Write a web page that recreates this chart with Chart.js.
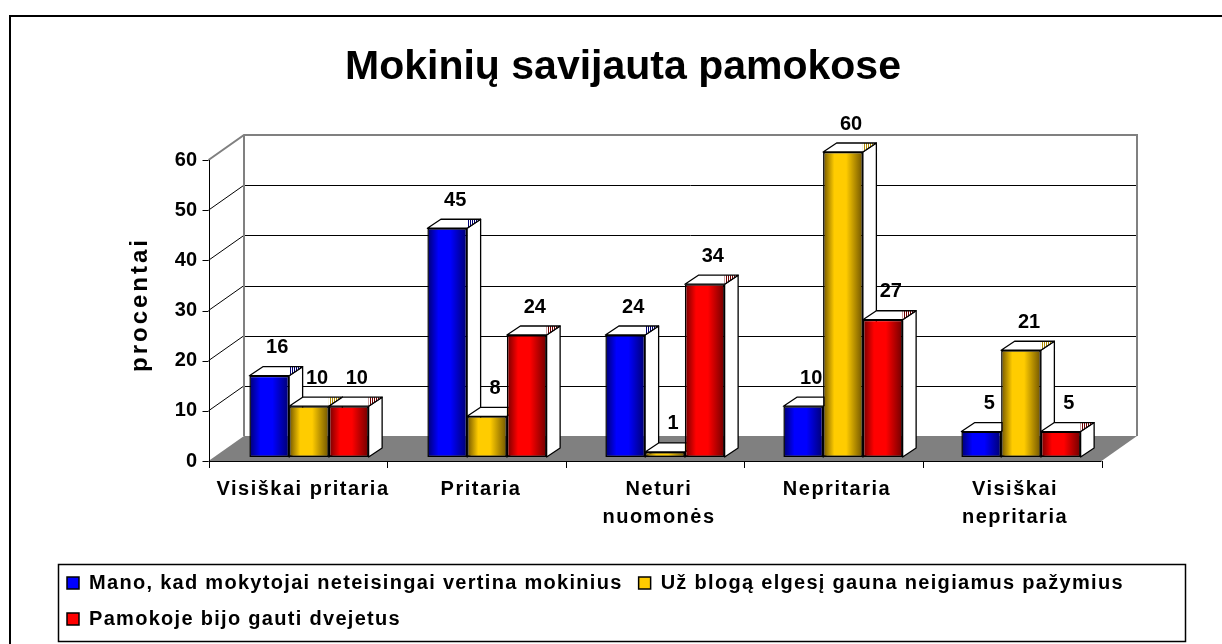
<!DOCTYPE html>
<html>
<head>
<meta charset="utf-8">
<script src="https://cdn.jsdelivr.net/npm/chart.js@4.4.0/dist/chart.umd.min.js"></script>
<style>
html,body{margin:0;padding:0;background:#fff;}
canvas{display:block;}
</style>
</head>
<body>
<canvas id="c" width="1222" height="644"></canvas>
<script>
// ---------- data ----------
const chartTitle = 'Mokinių savijauta pamokose';
const yAxisTitle = 'procentai';
const categories = ['Visiškai pritaria', 'Pritaria', ['Neturi', 'nuomonės'], 'Nepritaria', ['Visiškai', 'nepritaria']];
const seriesNames = [
  'Mano, kad mokytojai neteisingai vertina mokinius',
  'Už blogą elgesį gauna neigiamus pažymius',
  'Pamokoje bijo gauti dvejetus'
];
const teachersUnfair = [16, 45, 24, 10, 5];
const badBehaviourMarks = [10, 8, 1, 60, 21];
const afraidOfTwos = [10, 24, 34, 27, 5];
const yTickValues = [0, 10, 20, 30, 40, 50, 60];

// ---------- style ----------
const FONT = "'Liberation Sans', Arial, sans-serif";
const brightColors = ['#0000FF', '#FFCC00', '#FF0000'];
const darkColors = ['#000070', '#705400', '#700000'];
const seriesValues = [teachersUnfair, badBehaviourMarks, afraidOfTwos];

Chart.defaults.font.family = FONT;
Chart.defaults.color = '#000';

const GEO = { frontLeft: 11.5, frontRight: 8.5, backX: 35.5, backY: 25, barDX: 13.5, barDY: 9 };

function stripePattern(ctx, color) {
  const c = document.createElement('canvas');
  c.width = 2; c.height = 1;
  const g = c.getContext('2d');
  g.fillStyle = '#fff'; g.fillRect(0, 0, 2, 1);
  g.fillStyle = color; g.fillRect(0, 0, 1, 1);
  return ctx.createPattern(c, 'repeat');
}

function withSpacing(chart, obj, method, spacing) {
  if (!obj || obj['__ls_' + method]) return;
  const orig = obj[method];
  obj[method] = function () {
    const c = chart.ctx;
    const prev = c.letterSpacing;
    c.letterSpacing = spacing;
    try { return orig.apply(this, arguments); } finally { c.letterSpacing = prev; }
  };
  obj['__ls_' + method] = true;
}

const excel3d = {
  id: 'excel3d',
  beforeLayout(chart) {
    chart.ctx.letterSpacing = '1.3px';
  },
  beforeDraw(chart) {
    const ctx = chart.ctx;
    ctx.letterSpacing = '0px';
    withSpacing(chart, chart.titleBlock, 'draw', '0px');
    withSpacing(chart, chart.legend, 'draw', '1.3px');
    withSpacing(chart, chart.scales.x, 'drawLabels', '1.5px');
    withSpacing(chart, chart.scales.yFront, 'drawLabels', '0px');
    withSpacing(chart, chart.scales.yFront, 'drawTitle', '3px');
  },
  beforeDatasetsDraw(chart) {
    const ctx = chart.ctx;
    const xs = chart.scales.x, yf = chart.scales.yFront;
    const n = categories.length;
    const x0 = xs.left - GEO.frontLeft, x1 = xs.right - GEO.frontRight;
    const bx = GEO.backX, by = GEO.backY;
    const vMax = yTickValues[yTickValues.length - 1];
    const yTop = yf.getPixelForValue(vMax), yBot = yf.getPixelForValue(0);
    const r = (v) => Math.round(v) + 0.5;

    ctx.save();
    // floor
    ctx.fillStyle = '#808080';
    ctx.beginPath();
    ctx.moveTo(x0, yBot); ctx.lineTo(x1, yBot);
    ctx.lineTo(x1 + bx, yBot - by); ctx.lineTo(x0 + bx, yBot - by);
    ctx.closePath(); ctx.fill();

    // back wall gridlines + left wall diagonals
    ctx.strokeStyle = '#000'; ctx.lineWidth = 1;
    yTickValues.forEach(v => {
      if (v === 0 || v === vMax) return;
      const y = yf.getPixelForValue(v);
      ctx.beginPath();
      ctx.moveTo(x0 + bx, r(y - by)); ctx.lineTo(x1 + bx, r(y - by));
      ctx.stroke();
      ctx.beginPath();
      ctx.moveTo(x0, y); ctx.lineTo(x0 + bx, y - by);
      ctx.stroke();
    });
    // wall outline (grey)
    ctx.strokeStyle = '#808080'; ctx.lineWidth = 2;
    ctx.beginPath();
    ctx.moveTo(x0, yTop); ctx.lineTo(x0 + bx, yTop - by);
    ctx.lineTo(x1 + bx, yTop - by); ctx.lineTo(x1 + bx, yBot - by);
    ctx.stroke();
    ctx.beginPath();
    ctx.moveTo(x0 + bx, yTop - by); ctx.lineTo(x0 + bx, yBot - by);
    ctx.stroke();

    // front value axis
    ctx.strokeStyle = '#000'; ctx.lineWidth = 1;
    ctx.beginPath();
    ctx.moveTo(r(x0), yTop); ctx.lineTo(r(x0), yBot);
    ctx.stroke();
    yTickValues.forEach(v => {
      const y = r(yf.getPixelForValue(v));
      ctx.beginPath(); ctx.moveTo(x0 - 6, y); ctx.lineTo(x0, y); ctx.stroke();
    });
    // front category axis
    ctx.beginPath();
    ctx.moveTo(x0, r(yBot)); ctx.lineTo(x1, r(yBot));
    ctx.stroke();
    for (let i = 0; i <= n; i++) {
      const x = r(x0 + i * (x1 - x0) / n);
      ctx.beginPath(); ctx.moveTo(x, yBot); ctx.lineTo(x, yBot + 7); ctx.stroke();
    }

    // bar gradients + side / top faces
    const dx = GEO.barDX, dy = GEO.barDY;
    chart.data.datasets.forEach((ds, di) => {
      const meta = chart.getDatasetMeta(di);
      meta.data.forEach(el => {
        const L = el.x - el.width / 2, R = el.x + el.width / 2;
        const g = ctx.createLinearGradient(L, 0, R, 0);
        g.addColorStop(0, darkColors[di]);
        g.addColorStop(0.28, brightColors[di]);
        g.addColorStop(0.58, brightColors[di]);
        g.addColorStop(1, darkColors[di]);
        el.options = Object.assign({}, el.options, { backgroundColor: g });
      });
    });
    ctx.lineWidth = 1.3; ctx.strokeStyle = '#000'; ctx.lineJoin = 'round';
    for (let i = 0; i < n; i++) {
      chart.data.datasets.forEach((ds, di) => {
        const el = chart.getDatasetMeta(di).data[i];
        const L = el.x - el.width / 2, R = el.x + el.width / 2, T = el.y, B = el.base;
        // side face
        ctx.fillStyle = '#fff';
        ctx.beginPath();
        ctx.moveTo(R, T); ctx.lineTo(R + dx, T - dy); ctx.lineTo(R + dx, B - dy); ctx.lineTo(R, B);
        ctx.closePath(); ctx.fill(); ctx.stroke();
        // top face
        ctx.beginPath();
        ctx.moveTo(L, T); ctx.lineTo(L + dx, T - dy); ctx.lineTo(R + dx, T - dy); ctx.lineTo(R, T);
        ctx.closePath(); ctx.fill();
        ctx.fillStyle = stripePattern(ctx, brightColors[di] === '#FFCC00' ? '#B08C00' : darkColors[di]);
        ctx.beginPath();
        ctx.moveTo(R, T); ctx.lineTo(R, T - dy); ctx.lineTo(R + dx, T - dy);
        ctx.closePath(); ctx.fill();
        ctx.beginPath();
        ctx.moveTo(L, T); ctx.lineTo(L + dx, T - dy); ctx.lineTo(R + dx, T - dy); ctx.lineTo(R, T);
        ctx.closePath(); ctx.stroke();
      });
    }
    ctx.restore();
  },
  afterDatasetsDraw(chart) {
    const ctx = chart.ctx;
    ctx.save();
    ctx.letterSpacing = '0px';
    ctx.font = 'bold 20px ' + FONT;
    ctx.fillStyle = '#000';
    ctx.textAlign = 'center';
    ctx.textBaseline = 'middle';
    chart.data.datasets.forEach((ds, di) => {
      chart.getDatasetMeta(di).data.forEach((el, i) => {
        ctx.fillText(String(ds.data[i]), el.x + 8, el.y - 28);
      });
    });
    ctx.restore();
  },
  afterDraw(chart) {
    const ctx = chart.ctx;
    const lg = chart.legend;
    ctx.save();
    ctx.strokeStyle = '#000';
    ctx.lineWidth = 1.5;
    ctx.strokeRect(Math.round(lg.left + 7) + 0.5, Math.round(lg.top + 7) + 0.5,
                   Math.round(lg.width - 17), Math.round(lg.height - 5));
    // outer chart frame
    ctx.lineWidth = 2;
    ctx.beginPath();
    ctx.moveTo(10, chart.height + 2); ctx.lineTo(10, 16); ctx.lineTo(chart.width + 2, 16);
    ctx.stroke();
    ctx.restore();
  }
};

const chart = new Chart(document.getElementById('c'), {
  type: 'bar',
  data: {
    labels: categories,
    datasets: seriesNames.map((name, i) => ({
      label: name,
      data: seriesValues[i],
      backgroundColor: brightColors[i],
      borderColor: '#000',
      borderWidth: 1.5,
      borderSkipped: false,
      categoryPercentage: 0.67,
      barPercentage: 1.0,
      xAxisID: 'x',
      yAxisID: 'y',
      clip: false
    }))
  },
  options: {
    responsive: false,
    animation: false,
    events: [],
    layout: { padding: { left: 51, right: 27, top: 0, bottom: 5 } },
    plugins: {
      title: {
        display: true,
        text: chartTitle,
        color: '#000',
        font: { family: FONT, size: 41, weight: 'bold', lineHeight: 1.2 },
        padding: { top: 43, bottom: 59.8 }
      },
      legend: {
        position: 'bottom',
        align: 'start',
        labels: {
          color: '#000',
          font: { family: FONT, size: 20, weight: 'bold' },
          boxWidth: 12,
          boxHeight: 12,
          padding: 16
        }
      },
      tooltip: { enabled: false }
    },
    scales: {
      x: {
        position: 'bottom',
        grid: { display: false, drawTicks: false, tickLength: 0 },
        border: { display: false },
        ticks: {
          color: '#000',
          font: { family: FONT, size: 20, weight: 'bold', lineHeight: 1.4 },
          padding: 18,
          labelOffset: -6,
          maxRotation: 0,
          minRotation: 0,
          autoSkip: false
        },
        afterFit: (s) => { s.height = 100; }
      },
      y: { display: false, min: 0, max: 60 },
      yFront: {
        position: 'left',
        min: 0.7973,
        max: 61.595,
        grid: { display: false, drawTicks: false, tickLength: 0 },
        border: { display: false },
        ticks: { color: '#000', font: { family: FONT, size: 20, weight: 'bold' }, padding: 23 },
        afterBuildTicks: (s) => { s.ticks = yTickValues.map(v => ({ value: v })); },
        title: {
          display: true,
          text: yAxisTitle,
          color: '#000',
          font: { family: FONT, size: 24, weight: 'bold', lineHeight: 1.2 },
          padding: { top: 75, bottom: 0 }
        },
        afterFit: (s) => { s.width = 169; }
      },
      yR: {
        position: 'right',
        grid: { display: false },
        border: { display: false },
        ticks: { display: false },
        afterFit: (s) => { s.width = 85; }
      }
    }
  },
  plugins: [excel3d]
});
</script>
</body>
</html>
